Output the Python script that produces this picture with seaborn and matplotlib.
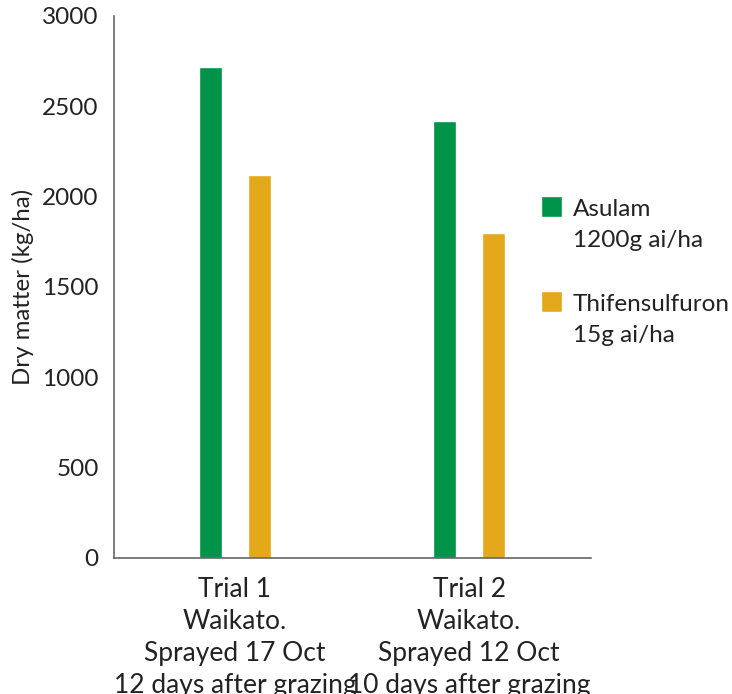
import numpy as np
import pandas as pd
import matplotlib
matplotlib.use("Agg")
import matplotlib.pyplot as plt
import seaborn as sns
from matplotlib.legend_handler import HandlerPatch
from matplotlib.patches import Rectangle

# Data
trials = ["Trial 1\nWaikato.\nSprayed 17 Oct\n12 days after grazing",
          "Trial 2\nWaikato.\nSprayed 12 Oct\n10 days after grazing"]
treatments = ["Asulam\n1200g ai/ha", "Thifensulfuron\n15g ai/ha"]
asulam = [2720, 2420]
thifensulfuron = [2120, 1800]
yticks = [0, 500, 1000, 1500, 2000, 2500, 3000]
colors = ["#009448", "#E3A91B"]

df = pd.DataFrame({
    "trial": trials * 2,
    "treatment": [treatments[0]] * len(trials) + [treatments[1]] * len(trials),
    "dm": asulam + thifensulfuron,
})

sns.set_style("white")
plt.rcParams["font.family"] = ["Lato", "DejaVu Sans"]
text_color = "#222222"

fig = plt.figure(figsize=(7.32, 6.94), dpi=100)
ax = fig.add_axes([0.1557, 0.196, 0.6517, 0.781])

sns.barplot(data=df, x="trial", y="dm", hue="treatment", hue_order=treatments,
            palette=colors, saturation=1, width=0.42, gap=0.53, ax=ax)

ax.set_xlim(-0.517, 1.521)
ax.set_ylim(0, 3000)
ax.set_yticks(yticks)
ax.set_xlabel("")
ax.set_ylabel("Dry matter (kg/ha)", fontsize=17.3, color=text_color, labelpad=6)
ax.tick_params(axis="both", length=0, colors=text_color)
ax.tick_params(axis="y", labelsize=17.5, pad=11)
ax.tick_params(axis="x", labelsize=19, pad=14)
for t in ax.get_xticklabels():
    t.set_linespacing(1.35)

sns.despine(ax=ax)
for side in ["left", "bottom"]:
    ax.spines[side].set_color("#666666")
    ax.spines[side].set_linewidth(1.2)

# legend: square sits next to the first line of each label
def top_square(legend, orig_handle, xdescent, ydescent, width, height, fontsize):
    return Rectangle((-xdescent, -ydescent + 12.0), 15, 15)

handles, labels = ax.get_legend_handles_labels()
ax.get_legend().remove()
fs = 17.5
leg = fig.legend(handles, labels, loc="upper left", bbox_to_anchor=(541 / 732, 1 - 199 / 694),
                 frameon=False, fontsize=fs, handlelength=15 / fs, handletextpad=8 / fs,
                 labelspacing=1.8, borderpad=0, borderaxespad=0,
                 handler_map={Rectangle: HandlerPatch(patch_func=top_square)})
for t in leg.get_texts():
    t.set_linespacing(1.56)
    t.set_color(text_color)

fig.savefig("out.png", dpi=100)
